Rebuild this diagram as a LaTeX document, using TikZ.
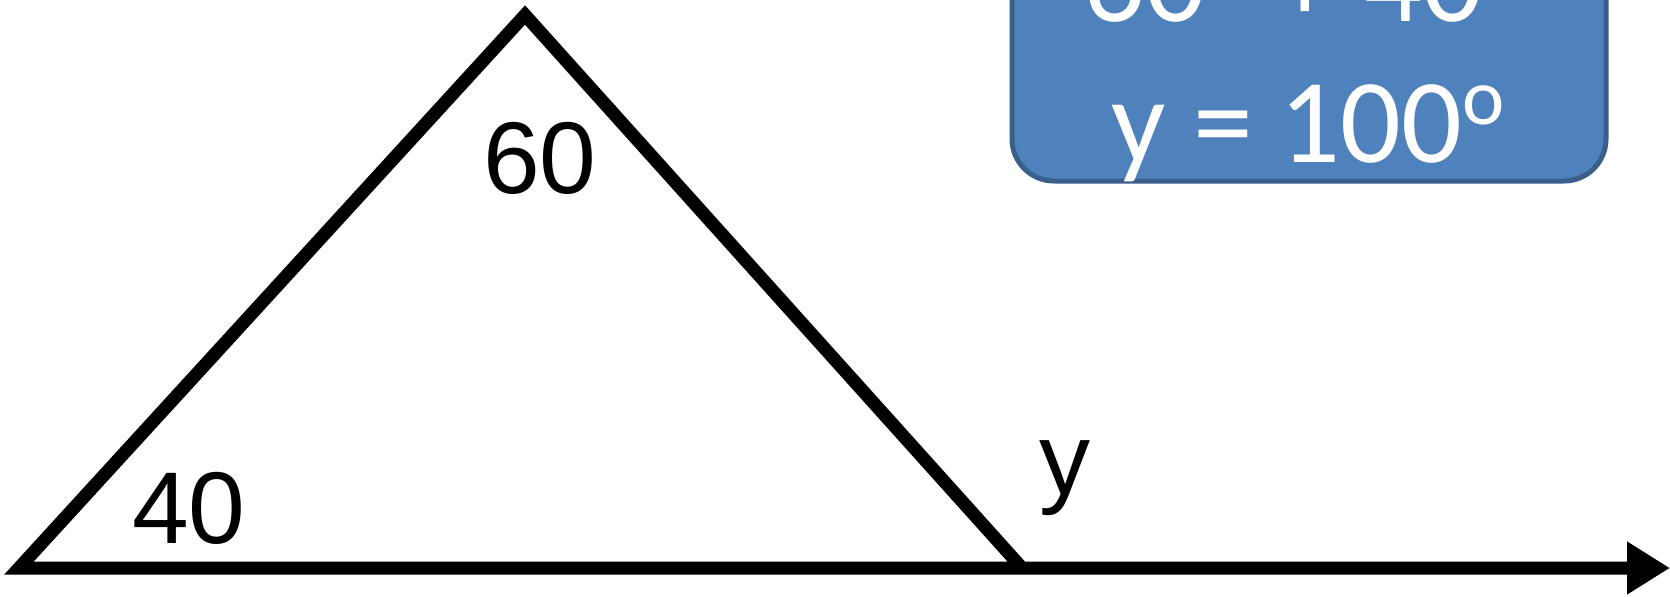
\documentclass[tikz,border=0pt]{standalone}
\usepackage{fontspec}
\setmainfont{Liberation Sans}
\newfontfamily\calfont{Carlito}
\usetikzlibrary{arrows.meta}
\definecolor{boxfill}{HTML}{4F81BD}
\definecolor{boxline}{HTML}{3A5F8B}
\newcommand{\supo}{\raisebox{19pt}{\fontsize{40}{40}\selectfont o}}
\begin{document}
\begin{tikzpicture}[x=0.5pt,y=-0.5pt,
  edge/.style={line width=6.5pt, line join=miter},
  lbl/.style={font=\fontsize{51}{60}\selectfont, anchor=base, inner sep=0pt},
  calcbox/.style={draw=boxline, fill=boxfill, line width=2.5pt, rounded corners=21pt, minimum width=297pt, minimum height=150.5pt, inner sep=0pt},
  calctext/.style={text=white, font=\calfont\fontsize{60}{70}\selectfont, anchor=base, inner sep=0pt}]
\useasboundingbox (0,0) rectangle (1670,596);
\clip (0,0) rectangle (1670,596);
% result box
\node[calcbox] (box) at (1309,30.5) {};
\begin{scope}
  \clip[rounded corners=21pt] (box.south west) rectangle (box.north east);
  \node[calctext] (sum) at (1305,21) {60\supo{} + 40\supo};
  \node[calctext] (res) at (1308,162) {y = 100\supo};
\end{scope}
% triangle
\coordinate (L) at (19,568);
\coordinate (T) at (525,15);
\coordinate (R) at (1022,568);
\coordinate (E) at (1670,568);
\draw[edge, -{Triangle[length=21.5pt,width=25pt]}] (R) -- (T) -- (L) -- (E);
% angle labels
\node[lbl] (a60) at (540,193) {60};
\node[lbl] (a40) at (189,543) {40};
\node[lbl] (ay) at (1065,494) {y};
\end{tikzpicture}
\end{document}
